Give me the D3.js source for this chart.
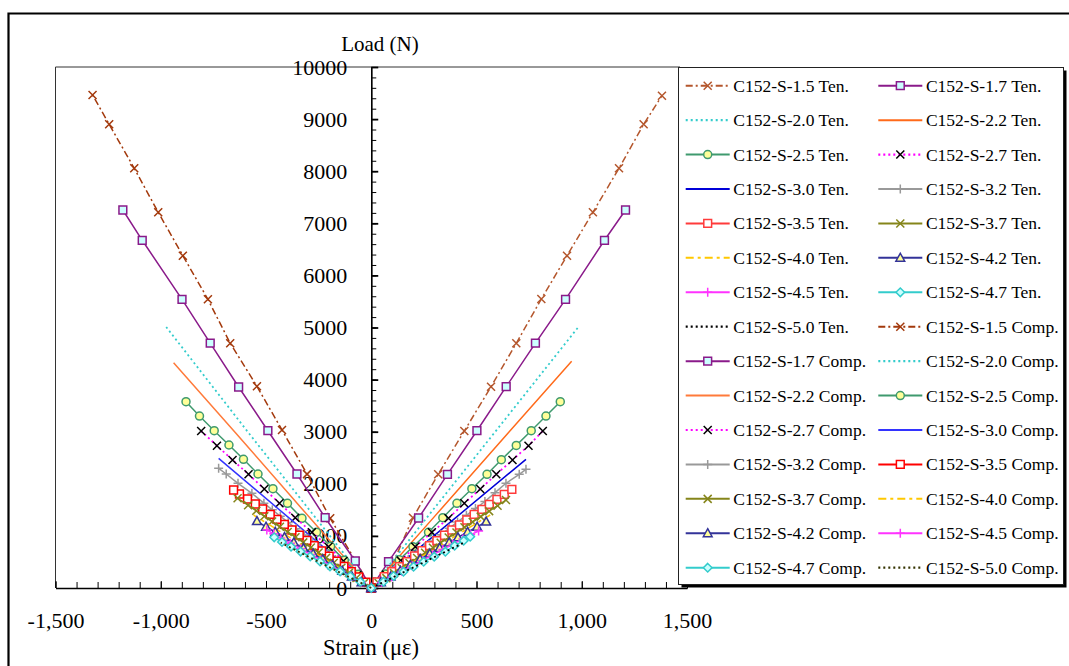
<!DOCTYPE html>
<html>
<head>
<meta charset="utf-8">
<script src="https://cdn.jsdelivr.net/npm/d3@7"></script>
<style>
  body { margin: 0; background: #fff; }
  svg { display: block; }
  text { font-family: "Liberation Serif", "Times New Roman", serif; fill: #000; }
</style>
</head>
<body>
<svg id="chart" width="1069" height="666"></svg>
<script>
// ---- data: [strain (με), load (N)] ----
// tension tests (positive strain)
const ten_1_5 = [[0,0],[108,520],[198,1349],[318,2182],[442,3013],[569,3864],[689,4697],[808,5547],[930,6378],[1053,7211],[1177,8056],[1294,8900],[1381,9449]];
const ten_1_7 = [[0,0],[82,505],[225,1344],[362,2182],[502,3019],[641,3864],[780,4700],[923,5541],[1108,6674],[1208,7255]];
const ten_2_0 = [[0,0],[262,1340],[595,3030],[988,5030]];
const ten_2_2 = [[0,0],[300,1370],[645,2950],[952,4350]];
const ten_2_5 = [[0,0],[66,270],[133,540],[198,793],[272,1069],[340,1349],[407,1626],[478,1906],[550,2182],[618,2463],[689,2737],[760,3019],[830,3301],[898,3576]];
const ten_2_7 = [[0,0],[70,257],[140,525],[209,793],[288,1069],[367,1338],[442,1626],[518,1900],[594,2182],[671,2457],[747,2731],[815,3013]];
const ten_3_0 = [[0,0],[300,1010],[735,2470]];
const ten_3_2 = [[0,0],[31,98],[66,205],[102,318],[139,432],[176,548],[214,665],[252,782],[291,902],[330,1022],[370,1145],[410,1268],[452,1395],[495,1525],[540,1660],[588,1830],[640,2010],[703,2182],[735,2278]];
const ten_3_5 = [[0,0],[27,115],[62,217],[98,313],[134,409],[170,505],[206,614],[241,716],[277,812],[312,908],[348,1012],[383,1113],[419,1209],[454,1305],[489,1415],[526,1511],[561,1607],[597,1702],[632,1798],[668,1894]];
const ten_3_7 = [[0,0],[35,95],[72,190],[108,285],[145,385],[182,480],[218,575],[256,675],[293,772],[330,870],[368,968],[405,1065],[443,1165],[482,1268],[520,1370],[560,1475],[600,1580],[640,1689]];
const ten_4_0 = [[0,0],[210,525],[400,1000],[565,1401]];
const ten_4_2 = [[0,0],[46,110],[92,218],[138,330],[185,440],[232,552],[278,660],[325,768],[370,872],[412,970],[458,1075],[503,1175],[546,1273]];
const ten_4_5 = [[0,0],[50,108],[98,212],[146,318],[195,425],[244,530],[292,635],[340,738],[388,842],[435,940],[472,1020],[510,1094]];
const ten_4_7 = [[0,0],[58,121],[106,230],[153,313],[201,409],[249,505],[299,601],[352,697],[396,812],[439,908],[470,985]];
const ten_5_0 = [[0,0],[230,455],[445,880]];

// compression tests (negative strain)
const comp_1_5 = [[0,0],[-75,520],[-195,1338],[-305,2186],[-424,3033],[-543,3871],[-670,4697],[-776,5541],[-895,6378],[-1012,7211],[-1126,8056],[-1245,8900],[-1324,9463]];
const comp_1_7 = [[0,0],[-76,518],[-219,1349],[-353,2188],[-491,3019],[-630,3858],[-765,4700],[-899,5541],[-1088,6674],[-1180,7255]];
const comp_2_0 = [[0,0],[-265,1350],[-592,3025],[-974,5010]];
const comp_2_2 = [[0,0],[-300,1385],[-645,2980],[-939,4324]];
const comp_2_5 = [[0,0],[-62,262],[-128,535],[-193,800],[-260,1069],[-329,1338],[-398,1626],[-467,1906],[-538,2188],[-607,2470],[-676,2745],[-746,3019],[-816,3301],[-880,3576]];
const comp_2_7 = [[0,0],[-66,250],[-132,520],[-203,793],[-282,1069],[-361,1349],[-436,1626],[-508,1900],[-583,2182],[-659,2457],[-733,2731],[-808,3013]];
const comp_3_0 = [[0,0],[-290,1000],[-725,2489]];
const comp_3_2 = [[0,0],[-30,95],[-63,200],[-98,312],[-134,428],[-170,545],[-207,662],[-244,780],[-281,898],[-318,1016],[-356,1135],[-394,1255],[-432,1378],[-470,1500],[-510,1628],[-567,1818],[-633,2010],[-689,2188],[-725,2297]];
const comp_3_5 = [[0,0],[-25,113],[-60,213],[-95,313],[-130,413],[-165,513],[-200,613],[-236,713],[-271,813],[-306,913],[-342,1013],[-377,1113],[-413,1222],[-448,1318],[-480,1414],[-516,1516],[-551,1612],[-588,1708],[-626,1804],[-654,1881]];
const comp_3_7 = [[0,0],[-34,95],[-70,192],[-106,290],[-142,388],[-178,485],[-214,582],[-250,680],[-287,778],[-323,876],[-360,975],[-397,1075],[-434,1175],[-471,1275],[-508,1378],[-546,1482],[-585,1590],[-635,1722]];
const comp_4_0 = [[0,0],[-205,515],[-395,990],[-559,1401]];
const comp_4_2 = [[0,0],[-46,110],[-92,220],[-138,330],[-184,440],[-230,550],[-276,658],[-322,765],[-368,872],[-412,975],[-456,1075],[-500,1175],[-543,1282]];
const comp_4_5 = [[0,0],[-48,108],[-96,215],[-144,322],[-192,430],[-240,538],[-288,645],[-336,752],[-384,860],[-430,962],[-463,1040],[-496,1113]];
const comp_4_7 = [[0,0],[-52,120],[-100,225],[-148,318],[-196,415],[-243,510],[-290,605],[-336,700],[-381,793],[-424,883],[-461,973]];
const comp_5_0 = [[0,0],[-225,450],[-430,870]];

const specimens = ["1.5","1.7","2.0","2.2","2.5","2.7","3.0","3.2","3.5","3.7","4.0","4.2","4.5","4.7","5.0"];
const tenData  = [ten_1_5, ten_1_7, ten_2_0, ten_2_2, ten_2_5, ten_2_7, ten_3_0, ten_3_2, ten_3_5, ten_3_7, ten_4_0, ten_4_2, ten_4_5, ten_4_7, ten_5_0];
const compData = [comp_1_5, comp_1_7, comp_2_0, comp_2_2, comp_2_5, comp_2_7, comp_3_0, comp_3_2, comp_3_5, comp_3_7, comp_4_0, comp_4_2, comp_4_5, comp_4_7, comp_5_0];

const xTicks = [-1500, -1000, -500, 0, 500, 1000, 1500];
const yTicks = [0, 1000, 2000, 3000, 4000, 5000, 6000, 7000, 8000, 9000, 10000];

// ---- line / marker styles per specimen ----
const tenStyle = [
  { color: "#B4562C", dash: "7,3,2,3", marker: "x" },
  { color: "#8A1A8A", dash: null, marker: "square", fill: "#CCFFFF" },
  { color: "#33CCCC", dash: "2,3", marker: null },
  { color: "#FF6A1A", dash: null, marker: null },
  { color: "#3F9A6E", dash: null, marker: "circle", fill: "#FFFF99" },
  { color: "#FF00FF", dash: "2,3", marker: "x", markerColor: "#000" },
  { color: "#0000D8", dash: null, marker: null },
  { color: "#999999", dash: null, marker: "plus" },
  { color: "#FF3B3B", dash: null, marker: "square", fill: "#FFFFFF" },
  { color: "#85851A", dash: null, marker: "x" },
  { color: "#FFC800", dash: "8,4,3,4", marker: null },
  { color: "#333399", dash: null, marker: "triangle", fill: "#FFFF99" },
  { color: "#FF33FF", dash: null, marker: "plus" },
  { color: "#33CCCC", dash: null, marker: "diamond", fill: "#CCFFFF" },
  { color: "#000000", dash: "2,3", marker: null }
];
const compStyle = [
  { color: "#A3390C", dash: "7,3,2,3", marker: "x" },
  { color: "#8A1A8A", dash: null, marker: "square", fill: "#CCFFFF" },
  { color: "#33CCCC", dash: "2,3", marker: null },
  { color: "#FF7A3A", dash: null, marker: null },
  { color: "#3F9A6E", dash: null, marker: "circle", fill: "#FFFF99" },
  { color: "#FF00FF", dash: "2,3", marker: "x", markerColor: "#000" },
  { color: "#3333FF", dash: null, marker: null },
  { color: "#999999", dash: null, marker: "plus" },
  { color: "#FF0000", dash: null, marker: "square", fill: "#FFFFFF" },
  { color: "#85851A", dash: null, marker: "x" },
  { color: "#FFC800", dash: "8,4,3,4", marker: null },
  { color: "#333399", dash: null, marker: "triangle", fill: "#FFFF99" },
  { color: "#FF33FF", dash: null, marker: "plus" },
  { color: "#33CCCC", dash: null, marker: "diamond", fill: "#CCFFFF" },
  { color: "#333300", dash: "2,3", marker: null }
];

const series = [];
specimens.forEach((s, i) => series.push(Object.assign({ name: `C152-S-${s} Ten.`, data: tenData[i] }, tenStyle[i])));
specimens.forEach((s, i) => series.push(Object.assign({ name: `C152-S-${s} Comp.`, data: compData[i] }, compStyle[i])));

// ---- layout ----
const svg = d3.select("#chart");
const x = d3.scaleLinear().domain([-1500, 1500]).range([55.5, 687]);
const y = d3.scaleLinear().domain([0, 10000]).range([588, 67]);
const fmt = d3.formatLocale({ decimal: ".", thousands: ",", grouping: [3], currency: ["", ""], minus: "-" }).format(",");

// outer frame (top and left edges)
svg.append("path").attr("d", "M8.5,666V13.5H1069").attr("fill", "none").attr("stroke", "#000").attr("stroke-width", 2.2);

// plot frame (top and left)
svg.append("path")
  .attr("d", `M${x(-1500)},${y(0)}V${y(10000)}H680`)
  .attr("fill", "none").attr("stroke", "#333").attr("stroke-width", 1);

// x axis at load 0
const gx = svg.append("g").attr("transform", `translate(0,${y(0)})`);
gx.call(d3.axisBottom(x).tickValues(d3.range(-1500, 1501, 100)).tickSizeInner(-6).tickSizeOuter(0).tickFormat(""));
gx.call(g => g.selectAll(".tick line").attr("stroke", "#000"));
const gxl = svg.append("g").attr("transform", `translate(0,${y(0)})`)
  .call(d3.axisBottom(x).tickValues(xTicks).tickSizeInner(-7).tickSizeOuter(0).tickPadding(24).tickFormat(fmt));
gxl.select(".domain").attr("stroke", "#000").attr("stroke-width", 1.5);
gxl.selectAll(".tick text").attr("font-size", 22).attr("font-family", "Liberation Serif").attr("fill", "#000");
gxl.selectAll(".tick line").attr("stroke", "#000");

// y axis at strain 0
const gy = svg.append("g").attr("transform", `translate(${x(0)},0)`);
gy.call(d3.axisRight(y).tickValues(d3.range(0, 10001, 200)).tickSizeInner(5).tickSizeOuter(0).tickFormat(""));
gy.selectAll(".tick line").attr("stroke", "#000");
const gyl = svg.append("g").attr("transform", `translate(${x(0)},0)`)
  .call(d3.axisLeft(y).tickValues(yTicks).tickSizeInner(-7).tickSizeOuter(0).tickPadding(24).tickFormat(d3.format("d")));
gyl.select(".domain").attr("stroke", "#000").attr("stroke-width", 1.5);
gyl.selectAll(".tick line").attr("stroke", "#000").attr("stroke-width", 1.8);
gyl.selectAll(".tick text").attr("font-size", 22).attr("font-family", "Liberation Serif").attr("fill", "#000");

// axis titles
svg.append("text").attr("x", 380).attr("y", 51).attr("text-anchor", "middle").attr("font-size", 21).text("Load (N)");
svg.append("text").attr("x", 371).attr("y", 655).attr("text-anchor", "middle").attr("font-size", 22.5).text("Strain (με)");

// ---- markers ----
function markerPath(type) {
  switch (type) {
    case "x": return "M-4,-4L4,4M-4,4L4,-4";
    case "plus": return "M-4.5,0H4.5M0,-4.5V4.5";
    case "square": return "M-3.9,-3.9H3.9V3.9H-3.9Z";
    case "circle": return d3.symbol(d3.symbolCircle, Math.PI * 4 * 4)();
    case "triangle": return "M0,-4.6L4.4,3.4L-4.4,3.4Z";
    case "diamond": return "M0,-4.3L4.3,0L0,4.3L-4.3,0Z";
  }
  return "";
}
function drawMarker(sel, s) {
  sel.attr("d", markerPath(s.marker))
    .attr("fill", s.fill || "none")
    .attr("stroke", s.markerColor || s.color)
    .attr("stroke-width", 1.5);
}

// ---- series ----
const line = d3.line().x(d => x(d[0])).y(d => y(d[1]));
const plot = svg.append("g");
series.forEach(s => {
  const g = plot.append("g");
  g.append("path").datum(s.data)
    .attr("d", line)
    .attr("fill", "none")
    .attr("stroke", s.color)
    .attr("stroke-width", s.dash === "2,3" ? 1.8 : 1.5)
    .attr("stroke-dasharray", s.dash);
  if (s.marker) {
    g.selectAll("path.m").data(s.data).join("path").attr("class", "m")
      .attr("transform", d => `translate(${x(d[0])},${y(d[1])})`)
      .call(drawMarker, s);
  }
});

// ---- legend ----
const lg = svg.append("g");
lg.append("rect").attr("x", 681.5).attr("y", 70.5).attr("width", 385).attr("height", 517).attr("fill", "#000");
lg.append("rect").attr("x", 678.5).attr("y", 67.5).attr("width", 385).attr("height", 517)
  .attr("fill", "#fff").attr("stroke", "#222").attr("stroke-width", 1);
const colX = [685.7, 878.3];
series.forEach((s, i) => {
  const row = Math.floor(i / 2), col = i % 2;
  const cy = 85.7 + row * 34.43;
  const x0 = colX[col];
  const item = lg.append("g");
  item.append("line").attr("x1", x0).attr("x2", x0 + 44).attr("y1", cy).attr("y2", cy)
    .attr("stroke", s.color).attr("stroke-width", s.dash === "2,3" ? 2.2 : 2)
    .attr("stroke-dasharray", s.dash);
  if (s.marker) {
    item.append("path").attr("transform", `translate(${x0 + 22},${cy})`).call(drawMarker, s);
  }
  item.append("text").attr("x", x0 + 47.6).attr("y", cy).attr("dy", "0.34em")
    .attr("font-size", 17.5).text(s.name);
});
</script>
</body>
</html>
